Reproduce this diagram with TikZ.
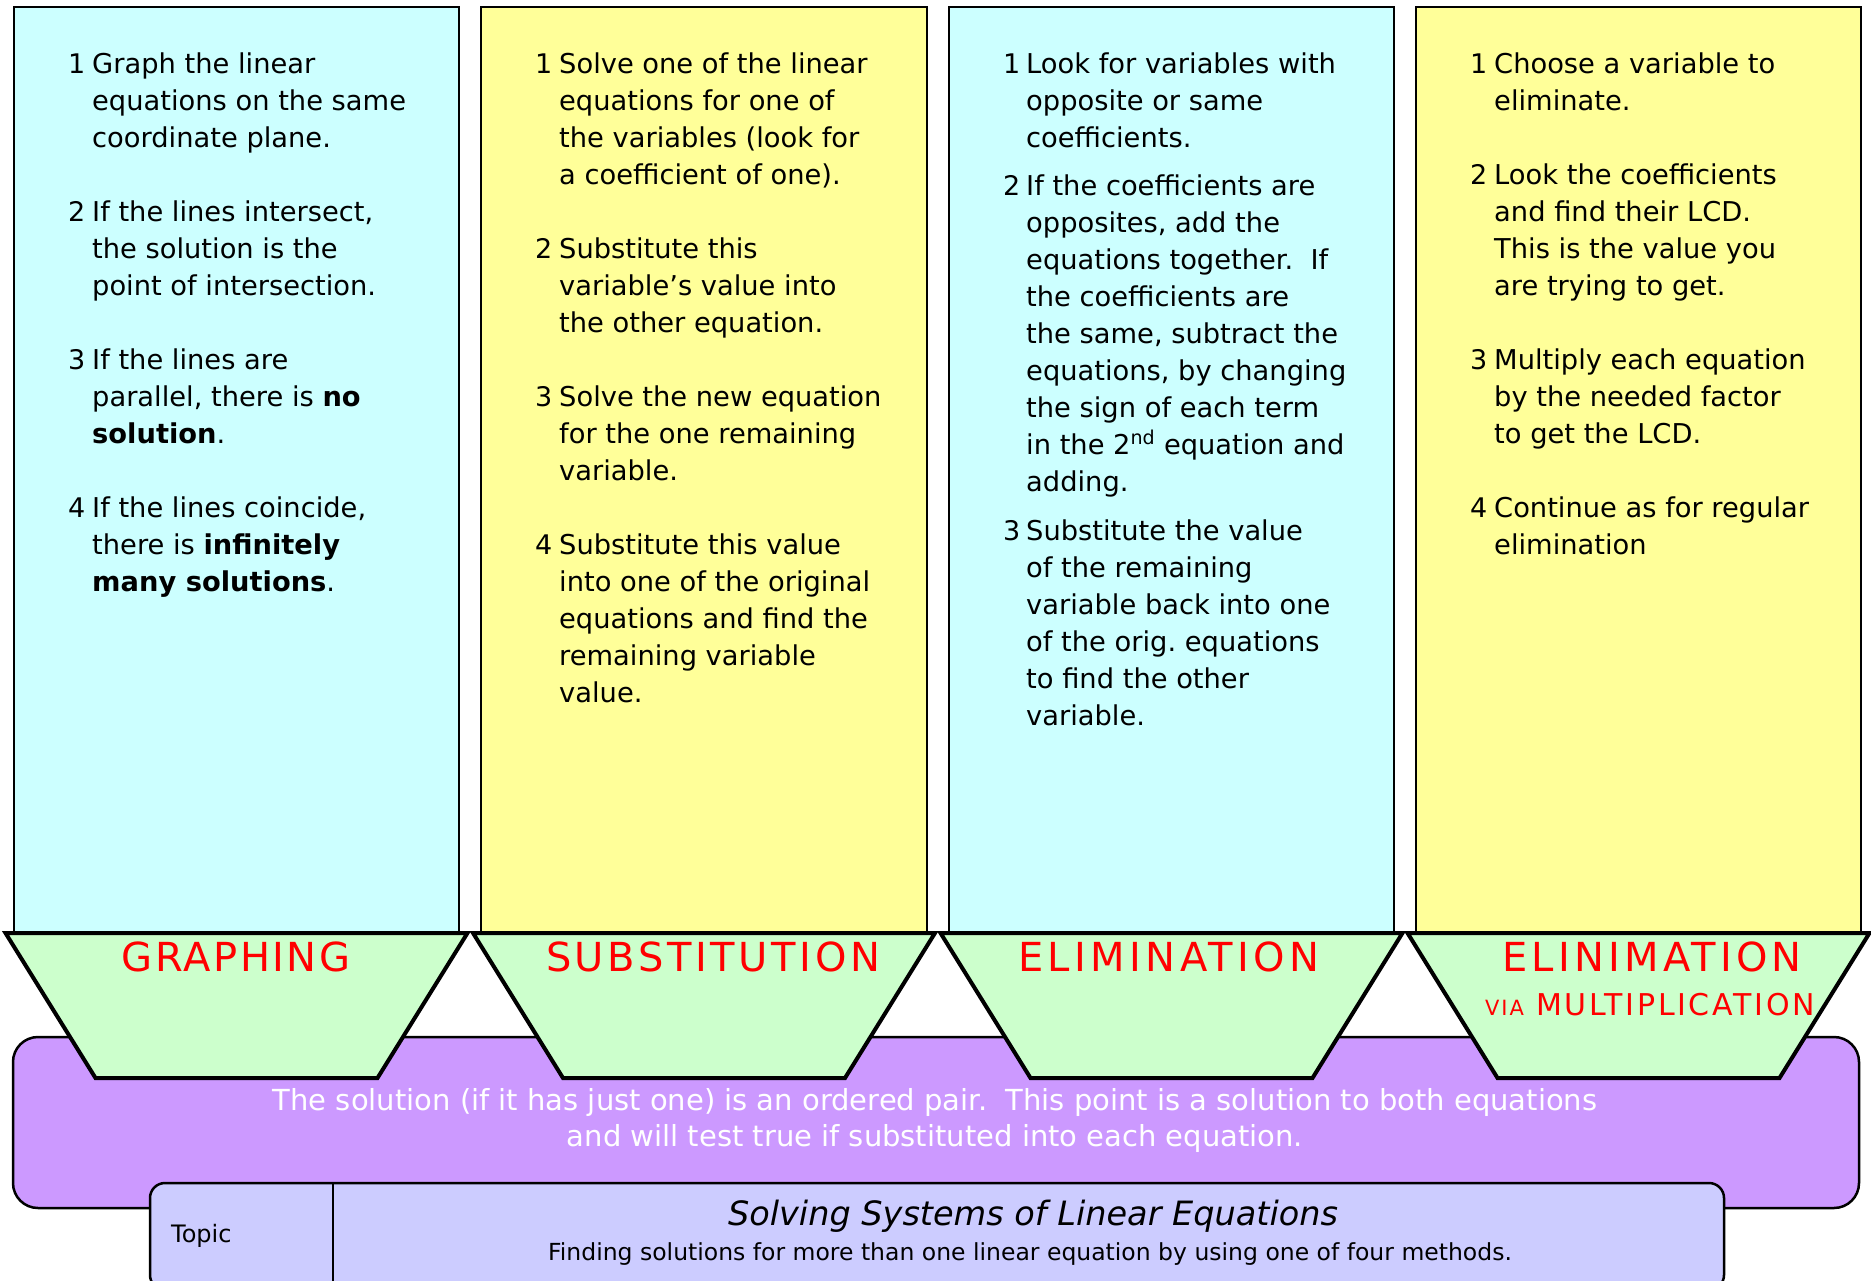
\documentclass[tikz,border=0pt]{standalone}
\usepackage{fontspec}
\setmainfont{DejaVu Sans}
\definecolor{cyanbox}{HTML}{CCFFFF}
\definecolor{yellowbox}{HTML}{FFFF99}
\definecolor{greentrap}{HTML}{CCFFCC}
\definecolor{purplebox}{HTML}{CC99FF}
\definecolor{topicbox}{HTML}{CCCCFF}
\definecolor{labred}{HTML}{FF0000}
\begin{document}
\begin{tikzpicture}[x=1pt,y=-1pt,
  colbox/.style={draw=black, line width=2pt},
  trap/.style={draw=black, fill=greentrap, line width=4pt, line join=miter},
  num/.style={anchor=base west, inner sep=0pt, font=\fontsize{27}{37}\selectfont},
  para/.style={anchor=base west, inner sep=0pt, font=\fontsize{27.3}{37}\selectfont},
  lab/.style={anchor=base, inner sep=0pt, text=labred, font=\fontsize{40}{40}\selectfont\addfontfeatures{LetterSpace=9}},
  sol/.style={anchor=base, inner sep=0pt, text=white, font=\fontsize{29}{36}\selectfont}
]
\useasboundingbox (0,0) rectangle (1871,1280);
\clip (0,0) rectangle (1871,1280);

% columns
\draw[colbox, fill=cyanbox]   (14,7)   rectangle (459,933);
\draw[colbox, fill=yellowbox] (481,7)  rectangle (927,933);
\draw[colbox, fill=cyanbox]   (949,7)  rectangle (1394,933);
\draw[colbox, fill=yellowbox] (1416,7) rectangle (1861,933);

% purple solution box
\draw[fill=purplebox, line width=2.5pt, rounded corners=25pt] (13,1037) rectangle (1859,1208);

% trapezoids
\foreach \cx in {236.5,704,1171.5,1638.5}{
  \draw[trap] (\cx-231,933) -- (\cx+231,933) -- (\cx+141,1078) -- (\cx-141,1078) -- cycle;
}

% topic box
\draw[fill=topicbox, line width=2.5pt, rounded corners=15pt] (150,1183) rectangle (1724,1290);
\draw[line width=1.5pt] (333,1183) -- (333,1290);

% column 1
\node[num] (a1n) at (68,73) {1};
\node[para] (a1) at (92,73) {\parbox[t]{360pt}{\raggedright Graph the linear\\equations on the same\\coordinate plane.}};
\node[num] (a2n) at (68,221) {2};
\node[para] (a2) at (92,221) {\parbox[t]{360pt}{\raggedright If the lines intersect,\\the solution is the\\point of intersection.}};
\node[num] (a3n) at (68,369) {3};
\node[para] (a3) at (92,369) {\parbox[t]{360pt}{\raggedright If the lines are\\parallel, there is \textbf{no}\\\textbf{solution}.}};
\node[num] (a4n) at (68,517) {4};
\node[para] (a4) at (92,517) {\parbox[t]{360pt}{\raggedright If the lines coincide,\\there is \textbf{infinitely}\\\textbf{many solutions}.}};

% column 2
\node[num] (b1n) at (535,73) {1};
\node[para] (b1) at (559,73) {\parbox[t]{360pt}{\raggedright Solve one of the linear\\equations for one of\\the variables (look for\\a coefficient of one).}};
\node[num] (b2n) at (535,258) {2};
\node[para] (b2) at (559,258) {\parbox[t]{360pt}{\raggedright Substitute this\\variable’s value into\\the other equation.}};
\node[num] (b3n) at (535,406) {3};
\node[para] (b3) at (559,406) {\parbox[t]{360pt}{\raggedright Solve the new equation\\for the one remaining\\variable.}};
\node[num] (b4n) at (535,554) {4};
\node[para] (b4) at (559,554) {\parbox[t]{360pt}{\raggedright Substitute this value\\into one of the original\\equations and find the\\remaining variable\\value.}};

% column 3
\node[num] (c1n) at (1003,73) {1};
\node[para] (c1) at (1026,73) {\parbox[t]{360pt}{\raggedright Look for variables with\\opposite or same\\coefficients.}};
\node[num] (c2n) at (1003,195) {2};
\node[para] (c2) at (1026,195) {\parbox[t]{360pt}{\raggedright If the coefficients are\\opposites, add the\\equations together.\ \ If\\the coefficients are\\the same, subtract the\\equations, by changing\\the sign of each term\\in the 2\textsuperscript{nd} equation and\\adding.}};
\node[num] (c3n) at (1003,540) {3};
\node[para] (c3) at (1026,540) {\parbox[t]{360pt}{\raggedright Substitute the value\\of the remaining\\variable back into one\\of the orig.\ equations\\to find the other\\variable.}};

% column 4
\node[num] (d1n) at (1470,73) {1};
\node[para] (d1) at (1494,73) {\parbox[t]{360pt}{\raggedright Choose a variable to\\eliminate.}};
\node[num] (d2n) at (1470,184) {2};
\node[para] (d2) at (1494,184) {\parbox[t]{360pt}{\raggedright Look the coefficients\\and find their LCD.\\This is the value you\\are trying to get.}};
\node[num] (d3n) at (1470,369) {3};
\node[para] (d3) at (1494,369) {\parbox[t]{360pt}{\raggedright Multiply each equation\\by the needed factor\\to get the LCD.}};
\node[num] (d4n) at (1470,517) {4};
\node[para] (d4) at (1494,517) {\parbox[t]{360pt}{\raggedright Continue as for regular\\elimination}};

% method labels
\node[lab, font=\fontsize{40}{40}\selectfont\addfontfeatures{LetterSpace=6}] (lg) at (236,971) {GRAPHING};
\node[lab] (ls) at (713,971) {SUBSTITUTION};
\node[lab, font=\fontsize{40}{40}\selectfont\addfontfeatures{LetterSpace=11}] (le) at (1169,971) {ELIMINATION};
\node[lab, font=\fontsize{40}{40}\selectfont\addfontfeatures{LetterSpace=10.5}] (lm) at (1652,971) {ELINIMATION};
\node[lab, font=\fontsize{30}{30}\selectfont\addfontfeatures{LetterSpace=9}] (lv) at (1650,1015) {{\fontsize{21}{21}\selectfont VIA} MULTIPLICATION};

% solution text
\node[sol] (s1) at (935,1110) {The solution (if it has just one) is an ordered pair.\ \ This point is a solution to both equations};
\node[sol] (s2) at (935,1146) {and will test true if substituted into each equation.};

% topic
\node[anchor=base west, inner sep=0pt, font=\fontsize{24}{24}\selectfont] (topic) at (171,1242) {Topic};
\node[anchor=base, inner sep=0pt, font=\fontsize{33.5}{33.5}\selectfont\itshape] (title) at (1033,1225) {Solving Systems of Linear Equations};
\node[anchor=base, inner sep=0pt, font=\fontsize{23.5}{23.5}\selectfont] (subt) at (1030,1260) {Finding solutions for more than one linear equation by using one of four methods.};
\end{tikzpicture}
\end{document}
